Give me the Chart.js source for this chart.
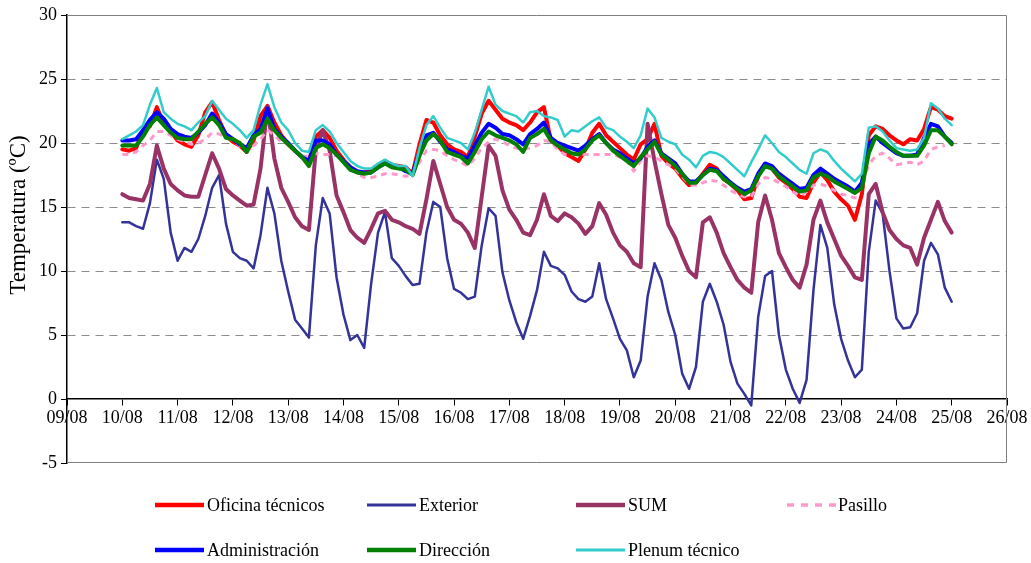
<!DOCTYPE html>
<html><head><meta charset="utf-8">
<script src="https://cdn.jsdelivr.net/npm/chart.js@4.4.0/dist/chart.umd.min.js"></script>
<style>html,body{margin:0;padding:0;background:#fff;}#wrap{width:1031px;height:563px;}</style>
</head><body><div id="wrap"><canvas id="c" width="1031" height="563"></canvas></div>
<script>
// X axis: days since 09/08
const dayLabels = ['09/08','10/08','11/08','12/08','13/08','14/08','15/08','16/08','17/08','18/08','19/08','20/08','21/08','22/08','23/08','24/08','25/08','26/08'];
const yTicks = [-5,0,5,10,15,20,25,30];
const sampleStart = 1;        // first reading: 10/08 00:00
const sampleStepDays = 0.125; // one reading every 3 h

const oficina = [19.5,19.4,19.6,21.0,21.3,22.8,21.5,20.9,20.2,19.9,19.7,20.6,22.4,23.2,21.8,20.6,20.1,19.8,19.3,20.2,22.1,
22.9,21.6,20.6,19.9,19.4,18.9,18.6,20.5,21.0,20.4,19.4,18.7,18.1,17.7,17.7,17.8,18.2,18.6,18.3,18.2,
18.1,17.6,19.9,21.8,21.6,20.6,19.9,19.5,19.3,18.9,20.5,22.3,23.3,22.6,21.9,21.6,21.4,21.0,21.6,22.4,
22.8,20.2,19.8,19.2,18.9,18.6,19.5,20.8,21.5,20.6,20.1,19.6,19.1,18.7,19.9,20.3,21.5,19.0,18.4,18.0,
17.3,16.7,16.9,17.6,18.3,18.0,17.2,16.8,16.3,15.6,15.7,17.4,18.3,18.0,17.3,16.9,16.4,15.8,15.7,16.9,
17.7,17.1,16.2,15.6,15.1,14.0,16.0,20.6,21.3,21.1,20.6,20.2,19.9,20.3,20.2,21.1,22.8,22.6,22.1,21.9];
const exterior = [13.8,13.8,13.5,13.3,15.3,18.7,17.2,13.0,10.8,11.8,11.5,12.5,14.3,16.5,17.5,13.7,11.5,11.0,10.8,10.2,12.8,
16.5,14.5,10.8,8.4,6.2,5.5,4.8,12.0,15.7,14.5,9.5,6.6,4.6,5.0,4.0,9.0,13.0,14.6,11.0,10.4,
9.6,8.9,9.0,13.0,15.4,15.0,11.0,8.6,8.3,7.8,8.0,12.0,14.9,14.3,9.9,7.7,6.0,4.7,6.5,8.5,
11.5,10.4,10.2,9.7,8.4,7.8,7.6,8.0,10.6,7.8,6.3,4.7,3.8,1.7,3.0,8.0,10.6,9.3,6.8,5.0,
2.0,0.8,2.5,7.6,9.0,7.6,5.8,2.9,1.2,0.4,-0.5,6.4,9.6,10.0,5.0,2.3,0.8,-0.3,1.5,8.5,
13.6,11.8,7.4,4.7,3.0,1.7,2.3,11.5,15.5,14.5,10.0,6.3,5.5,5.6,6.7,10.8,12.2,11.3,8.7,7.6];
const sum = [16.0,15.7,15.6,15.5,16.8,19.8,18.0,16.8,16.3,15.9,15.8,15.8,17.5,19.2,18.0,16.4,15.9,15.5,15.1,15.2,18.0,
22.8,18.8,16.5,15.4,14.2,13.5,13.2,19.5,21.0,19.4,15.9,14.6,13.2,12.6,12.2,13.3,14.5,14.7,14.0,13.8,
13.5,13.3,12.9,15.6,18.6,16.8,15.0,14.0,13.7,13.0,11.8,15.8,19.8,19.0,16.3,14.8,14.0,13.0,12.8,14.0,
16.0,14.3,13.9,14.5,14.2,13.7,12.9,13.5,15.3,14.4,13.0,12.0,11.5,10.6,10.3,21.5,18.6,16.0,13.6,12.6,
11.2,10.0,9.5,13.8,14.2,13.0,11.4,10.3,9.3,8.7,8.3,13.8,15.9,14.0,11.4,10.3,9.3,8.7,10.5,14.0,
15.5,13.8,12.5,11.2,10.4,9.5,9.3,16.0,16.8,14.6,13.2,12.5,12.0,11.8,10.5,12.6,14.0,15.4,13.9,13.0];
const pasillo = [19.1,19.1,19.3,19.8,20.2,20.9,20.9,20.6,20.3,20.1,19.9,20.0,20.3,20.8,20.7,20.5,20.2,19.8,19.3,19.8,20.3,
21.0,20.6,20.1,19.9,19.4,19.0,18.9,19.2,19.1,19.1,19.0,18.7,18.2,17.6,17.3,17.3,17.4,17.6,17.6,17.5,
17.4,17.5,18.5,19.4,19.5,19.4,19.0,18.7,18.5,18.2,18.8,19.6,20.1,20.3,20.1,19.8,19.6,19.5,19.6,19.8,
20.2,20.1,19.5,19.1,19.1,19.1,19.1,19.1,19.1,19.1,19.1,18.9,18.6,17.8,18.6,19.0,18.9,18.6,18.3,18.0,
17.4,16.8,16.7,16.9,17.1,17.0,16.7,16.3,16.0,15.8,15.8,16.8,17.3,17.2,16.9,16.6,16.2,15.9,16.2,16.7,
16.8,16.6,16.3,16.0,15.9,15.7,16.6,18.3,19.0,19.2,18.8,18.3,18.4,18.5,18.3,18.6,19.5,19.7,19.8,null];
const administracion = [20.2,20.2,20.3,21.0,21.8,22.4,21.9,21.1,20.7,20.5,20.4,20.8,21.4,22.3,21.6,20.7,20.3,19.9,19.6,20.6,21.1,
22.7,21.1,20.5,20.0,19.4,18.9,18.6,20.2,20.2,19.9,19.1,18.6,18.1,17.8,17.7,17.7,18.1,18.4,18.3,18.1,
17.8,17.6,19.3,20.6,20.8,20.1,19.5,19.3,19.0,18.8,19.8,20.8,21.5,21.2,20.7,20.6,20.3,19.9,20.7,21.1,
21.6,20.4,20.0,19.8,19.6,19.4,19.8,20.3,20.7,20.0,19.5,19.2,18.8,18.4,18.8,19.7,20.2,19.2,18.8,18.4,
17.6,17.0,17.0,17.5,18.0,17.9,17.4,16.9,16.5,16.2,16.4,17.6,18.4,18.2,17.6,17.2,16.8,16.4,16.5,17.5,
18.0,17.6,17.2,16.9,16.6,16.2,16.9,19.9,20.5,20.0,19.6,19.2,19.0,19.0,19.1,20.4,21.5,21.3,20.5,20.0];
const direccion = [19.8,19.8,19.8,20.5,21.4,22.0,21.4,20.8,20.4,20.3,20.3,20.9,21.5,22.0,21.4,20.4,20.3,20.0,19.3,20.5,20.8,
21.9,21.0,20.4,19.9,19.4,18.9,18.2,19.6,19.9,19.6,19.1,18.5,17.9,17.7,17.6,17.7,18.1,18.4,18.1,18.0,
17.9,17.5,19.0,20.2,20.7,20.2,19.3,19.1,18.9,18.4,19.3,20.3,20.9,20.6,20.4,20.2,19.9,19.3,20.4,20.7,
21.1,20.2,19.8,19.5,19.2,19.1,19.5,20.2,20.6,20.0,19.4,19.0,18.6,18.2,18.9,19.5,20.1,19.1,18.7,18.2,
17.6,16.9,16.9,17.5,17.9,17.8,17.2,16.8,16.4,16.0,16.3,17.4,18.2,18.0,17.4,17.0,16.6,16.2,16.3,17.3,
17.6,17.4,17.0,16.7,16.4,16.1,16.5,19.2,20.5,20.2,19.7,19.3,19.0,19.0,19.0,19.8,21.0,21.0,20.5,19.9];
const plenum = [20.3,20.6,20.9,21.4,23.0,24.3,22.4,21.9,21.5,21.3,21.0,21.6,22.1,23.3,22.6,21.9,21.5,21.0,20.4,21.0,23.0,
24.6,22.8,21.6,21.0,20.0,19.4,19.3,21.0,21.4,20.9,20.0,19.3,18.6,18.2,18.0,18.0,18.4,18.7,18.4,18.2,
18.2,17.4,19.6,21.4,22.1,21.2,20.4,20.2,20.0,19.5,20.8,22.6,24.4,23.0,22.5,22.3,22.1,21.6,22.4,22.5,
22.1,22.0,21.8,20.5,21.0,20.9,21.3,21.7,22.0,21.2,21.0,20.5,20.1,19.6,20.6,22.7,22.0,20.4,20.1,19.9,
19.1,18.7,18.1,19.0,19.3,19.2,18.9,18.4,17.9,17.4,18.5,19.5,20.6,20.0,19.3,18.9,18.4,17.9,17.6,19.2,
19.5,19.3,18.6,18.0,17.5,17.0,17.6,21.2,21.3,20.9,20.2,19.6,19.5,19.4,19.5,20.4,23.1,22.7,21.9,21.4];

const toPoints = vals => vals.map((v, i) => ({ x: sampleStart + i * sampleStepDays, y: v }));

const series = [
  { label: 'Oficina técnicos', data: oficina,        color: '#FF0000', width: 4,   dash: [],    order: 6 },
  { label: 'Exterior',         data: exterior,       color: '#333399', width: 2.5, dash: [],    order: 5 },
  { label: 'SUM',              data: sum,            color: '#993366', width: 4,   dash: [],    order: 4 },
  { label: 'Pasillo',          data: pasillo,        color: '#FF99CC', width: 3,   dash: [6,5], order: 3 },
  { label: 'Administración',   data: administracion, color: '#0000FF', width: 4,   dash: [],    order: 2 },
  { label: 'Dirección',        data: direccion,      color: '#008000', width: 4,   dash: [],    order: 1 },
  { label: 'Plenum técnico',   data: plenum,         color: '#33CCCC', width: 2.5, dash: [],    order: 0 }
];

const SERIF = '"Liberation Serif", "Times New Roman", serif';

const framePlugin = {
  id: 'frame',
  beforeDatasetsDraw(chart) {
    const a = chart.chartArea, ctx = chart.ctx;
    ctx.save();
    ctx.strokeStyle = '#808080'; ctx.lineWidth = 1;
    ctx.beginPath();
    ctx.moveTo(a.left, a.top + 0.5); ctx.lineTo(a.right - 0.5, a.top + 0.5);
    ctx.lineTo(a.right - 0.5, a.bottom - 0.5); ctx.lineTo(a.left, a.bottom - 0.5);
    ctx.stroke();
    ctx.restore();
  }
};

const legendPlugin = {
  id: 'customLegend',
  afterDraw(chart) {
    const ctx = chart.ctx;
    const cols = [155, 367, 576, 787];
    const rows = [505, 550];
    ctx.save();
    chart.data.datasets.forEach((ds, i) => {
      const x = cols[i % 4], y = rows[Math.floor(i / 4)];
      ctx.strokeStyle = ds.borderColor;
      ctx.lineWidth = ds.borderWidth + 0.5;
      ctx.setLineDash(ds.borderDash && ds.borderDash.length ? [7, 7] : []);
      ctx.lineCap = 'butt';
      ctx.beginPath(); ctx.moveTo(x, y); ctx.lineTo(x + 49, y); ctx.stroke();
      ctx.setLineDash([]);
      ctx.fillStyle = '#000';
      ctx.font = '18px ' + SERIF;
      ctx.textBaseline = 'middle';
      ctx.textAlign = 'left';
      ctx.fillText(ds.label, x + (ds.borderDash && ds.borderDash.length ? 51 : 52), y + 1);
    });
    // y-axis title
    ctx.translate(19, 215);
    ctx.rotate(-Math.PI / 2);
    ctx.font = '23px ' + SERIF;
    ctx.textAlign = 'center';
    ctx.textBaseline = 'middle';
    ctx.fillStyle = '#000';
    ctx.fillText('Temperatura (ºC)', 0, 0);
    ctx.restore();
  }
};

new Chart(document.getElementById('c'), {
  type: 'line',
  data: {
    datasets: series.map(s => ({
      label: s.label,
      data: toPoints(s.data),
      borderColor: s.color,
      backgroundColor: s.color,
      borderWidth: s.width,
      borderDash: s.dash,
      order: s.order,
      pointRadius: 0,
      fill: false,
      tension: 0,
      spanGaps: false,
      borderJoinStyle: 'round',
      borderCapStyle: s.dash.length ? 'butt' : 'round'
    }))
  },
  options: {
    responsive: false,
    animation: false,
    devicePixelRatio: 1,
    layout: { padding: { left: 0, right: 24, top: 15, bottom: 100 } },
    plugins: { legend: { display: false }, tooltip: { enabled: false } },
    scales: {
      x: {
        type: 'linear', min: 0, max: dayLabels.length - 1,
        position: { y: 0 },
        afterBuildTicks: s => { s.ticks = dayLabels.map((_, i) => ({ value: i })); },
        ticks: { callback: v => dayLabels[v], font: { family: SERIF, size: 18 }, color: '#000', maxRotation: 0, autoSkip: false, padding: 2 },
        grid: { drawOnChartArea: false, drawTicks: true, tickLength: 6, color: '#000', tickColor: '#000' },
        border: { display: true, color: '#000', width: 1.5 }
      },
      y: {
        min: -5, max: 30,
        afterBuildTicks: s => { s.ticks = yTicks.map(v => ({ value: v })); },
        afterFit: s => { s.width = 67; },
        ticks: { font: { family: SERIF, size: 18 }, color: '#000', padding: 4 },
        grid: {
          color: c => (c.tick && (c.tick.value === 0 || c.tick.value === 30 || c.tick.value === -5)) ? 'rgba(0,0,0,0)' : '#8c8c8c',
          tickColor: '#000', tickLength: 6, lineWidth: 1
        },
        border: { display: true, color: '#000', width: 1.5, dash: [8, 6] }
      }
    }
  },
  plugins: [framePlugin, legendPlugin]
});
</script>
</body></html>
